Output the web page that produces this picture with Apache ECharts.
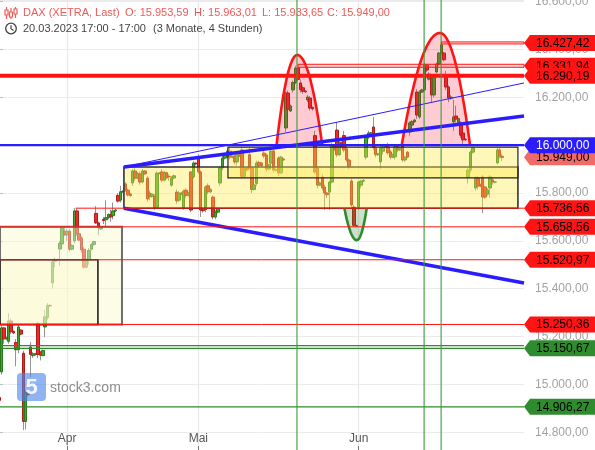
<!DOCTYPE html>
<html>
<head>
<meta charset="utf-8">
<title>DAX (XETRA) – 4-Stunden-Chart</title>
<script src="https://cdn.jsdelivr.net/npm/echarts/dist/echarts.min.js"></script>
<style>
  html, body { margin: 0; padding: 0; background: #fff; }
  #chart { width: 595px; height: 450px; }
</style>
</head>
<body>
<div id="chart"></div>
<script>
const FONT = '"Liberation Sans", Arial, sans-serif';

// Trading days on the axis; each day carries three 4h sessions
const daysMar = ['20.03.', '21.03.', '22.03.', '23.03.', '24.03.', '27.03.', '28.03.', '29.03.', '30.03.', '31.03.'];
const daysApr = ['03.04.', '04.04.', '05.04.', '06.04.', '11.04.', '12.04.', '13.04.', '14.04.', '17.04.', '18.04.', '19.04.', '20.04.', '21.04.', '24.04.', '25.04.', '26.04.', '27.04.', '28.04.'];
const daysMay = ['02.05.', '03.05.', '04.05.', '05.05.', '08.05.', '09.05.', '10.05.', '11.05.', '12.05.', '15.05.', '16.05.', '17.05.', '18.05.', '19.05.', '22.05.', '23.05.', '24.05.', '25.05.', '26.05.', '29.05.', '30.05.', '31.05.'];
const daysJun = ['01.06.', '02.06.', '05.06.', '06.06.', '07.06.', '08.06.', '09.06.', '12.06.', '13.06.', '14.06.', '15.06.', '16.06.', '19.06.', '20.06.', '21.06.', '22.06.', '23.06.', '26.06.', '27.06.', '28.06.', '29.06.', '30.06.'];
const daysJul = ['03.07.'];
const sessions = ['09:00', '13:00', '17:00'];
const monthLabels = { '04': 'Apr', '05': 'Mai', '06': 'Jun' };

// Candles: [open, close, low, high]
const candlesMar = [
  [14945, 14933, 14925, 14950],
  [15052, 15236, 15040, 15245], [15236, 15190, 15170, 15240], [15190, 15196, 15185, 15200],
  [15180, 15265, 15170, 15298], [15265, 15220, 15210, 15275], [15222, 15215, 15210, 15225],
  [15175, 15145, 15075, 15190], [15145, 15240, 15130, 15250], [15227, 15210, 15205, 15230],
  [15130, 14845, 14809, 15140], [14845, 14965, 14812, 14975], [14965, 14957, 14950, 14970],
  [15156, 15125, 15031, 15177], [15120, 15128, 15110, 15135], [15125, 15128, 15120, 15132],
  [15255, 15125, 15110, 15262], [15135, 15122, 15100, 15140], [15120, 15142, 15118, 15145],
  [15240, 15282, 15198, 15311], [15280, 15330, 15270, 15340], [15330, 15328, 15325, 15335],
  [15424, 15512, 15400, 15520], [15515, 15522, 15490, 15530], [15522, 15522, 15518, 15526],
  [15566, 15590, 15495, 15600], [15587, 15654, 15580, 15660], [15640, 15625, 15620, 15660]
];
const candlesApr = [
  [15625, 15640, 15600, 15650], [15640, 15565, 15555, 15650], [15565, 15581, 15560, 15585],
  [15600, 15725, 15590, 15736.56], [15725, 15630, 15620, 15735], [15630, 15603, 15600, 15635],
  [15612, 15562, 15550, 15620], [15565, 15490, 15482, 15575], [15490, 15520, 15485, 15525],
  [15520, 15560, 15500, 15570], [15565, 15585, 15560, 15590], [15585, 15597, 15580, 15600],
  [15715, 15675, 15670, 15745], [15675, 15655, 15624, 15680], [15650, 15657, 15645, 15660],
  [15690, 15685, 15670, 15700], [15688, 15697, 15660, 15770], [15697, 15710, 15690, 15715],
  [15710, 15700, 15680, 15730], [15705, 15725, 15690, 15760], [15725, 15729, 15720, 15735],
  [15790, 15766, 15760, 15800], [15770, 15805, 15760, 15830], [15805, 15807, 15800, 15812],
  [15838, 15812, 15805, 15845], [15812, 15792, 15785, 15820], [15795, 15789, 15785, 15800],
  [15842, 15892, 15830, 15900], [15892, 15862, 15850, 15905], [15862, 15882, 15858, 15888],
  [15880, 15846, 15835, 15890], [15846, 15892, 15840, 15900], [15892, 15880, 15875, 15895],
  [15862, 15775, 15765, 15870], [15800, 15785, 15770, 15810], [15785, 15795, 15780, 15800],
  [15785, 15740, 15730, 15795], [15740, 15883, 15735, 15890], [15883, 15882, 15878, 15887],
  [15888, 15854, 15845, 15900], [15854, 15885, 15848, 15892], [15885, 15863, 15858, 15888],
  [15870, 15868, 15850, 15880], [15833, 15863, 15825, 15870], [15863, 15872, 15858, 15876],
  [15804, 15767, 15755, 15815], [15770, 15800, 15762, 15808], [15800, 15796, 15790, 15803],
  [15737, 15808, 15730, 15815], [15812, 15790, 15780, 15820], [15790, 15800, 15785, 15806],
  [15888, 15729, 15720, 15892], [15867, 15925, 15860, 15932], [15925, 15922, 15915, 15928]
];
const candlesMay = [
  [15946, 15888, 15880, 15962], [15888, 15729, 15700, 15895], [15730, 15726, 15718, 15735],
  [15730, 15825, 15720, 15832], [15830, 15805, 15795, 15840], [15805, 15815, 15800, 15820],
  [15783, 15700, 15690, 15790], [15700, 15720, 15690, 15728], [15720, 15734, 15715, 15740],
  [15842, 15905, 15830, 15912], [15905, 15946, 15895, 15955], [15946, 15961, 15940, 15966],
  [15960, 15975, 15945, 15985], [15975, 15950, 15940, 15990], [15950, 15952, 15945, 15958],
  [15955, 15930, 15920, 15970], [15930, 15960, 15915, 15975], [15960, 15955, 15950, 15962],
  [15980, 15870, 15860, 15990], [15870, 15905, 15860, 15910], [15905, 15897, 15890, 15908],
  [15960, 15905, 15900, 15990], [15905, 15815, 15800, 15910], [15815, 15834, 15810, 15840],
  [15840, 15925, 15830, 15935], [15928, 15915, 15905, 15935], [15925, 15914, 15910, 15930],
  [15967, 15955, 15945, 15975], [15959, 15900, 15890, 15965], [15900, 15918, 15895, 15922],
  [15925, 15975, 15915, 15985], [15976, 15896, 15885, 15980], [15896, 15897, 15890, 15902],
  [15946, 15884, 15870, 15955], [15884, 15950, 15880, 15955], [15942, 15938, 15935, 15945],
  [16072, 16218, 16055, 16225], [16218, 16150, 16140, 16228], [16143, 16164, 16138, 16170],
  [16231, 16262, 16220, 16270], [16262, 16322, 16255, 16331.94], [16322, 16275, 16268, 16326],
  [16260, 16232, 16220, 16275], [16240, 16225, 16215, 16250], [16226, 16223, 16218, 16229],
  [16189, 16201, 16180, 16210], [16197, 16155, 16145, 16205], [16158, 16152, 16145, 16162],
  [16040, 15888, 15880, 16060], [15905, 15833, 15820, 15912], [15833, 15842, 15828, 15848],
  [15867, 15821, 15810, 15880], [15825, 15800, 15730, 15835], [15800, 15793, 15779, 15805],
  [15804, 15846, 15730, 15852], [15846, 16001, 15840, 16008], [16000, 15983, 15975, 16005],
  [16063, 15960, 15950, 16097], [15960, 16010, 15955, 16020], [16010, 15995, 15990, 16015],
  [16040, 15980, 15970, 16060], [15985, 15938, 15930, 15995], [15938, 15909, 15900, 15945],
  [15850, 15750, 15740, 15860], [15741, 15665, 15658.56, 15750], [15660, 15664, 15658.56, 15668]
];
const candlesJun = [
  [15741, 15846, 15730, 15850], [15833, 15850, 15820, 15855], [15850, 15853, 15845, 15858],
  [15950, 16034, 15940, 16040], [16034, 16051, 16025, 16060], [16051, 16051, 16045, 16055],
  [16076, 15990, 15980, 16118], [15990, 15960, 15950, 15995], [15960, 15964, 15955, 15968],
  [15930, 15988, 15900, 15995], [15975, 15992, 15960, 16005], [15992, 15993, 15988, 15998],
  [15993, 15968, 15960, 16010], [15972, 15950, 15940, 15980], [15950, 15960, 15945, 15965],
  [15951, 15993, 15940, 16000], [15993, 15980, 15970, 16005], [15980, 15989, 15975, 15995],
  [15997, 15938, 15930, 16005], [15938, 15950, 15930, 15955], [15971, 15950, 15945, 15975],
  [16055, 16093, 16040, 16100], [16084, 16098, 16075, 16105], [16098, 16105, 16093, 16110],
  [16222, 16126, 16110, 16235], [16118, 16222, 16110, 16230], [16222, 16231, 16218, 16236],
  [16231, 16335, 16225, 16345], [16335, 16314, 16305, 16340], [16276, 16297, 16270, 16305],
  [16280, 16210, 16180, 16290], [16210, 16290, 16200, 16295], [16306, 16339, 16300, 16345],
  [16339, 16385, 16330, 16390], [16385, 16420, 16380, 16427.42], [16385, 16357, 16350, 16390],
  [16290, 16243, 16230, 16310], [16243, 16197, 16180, 16250], [16197, 16201, 16190, 16210],
  [16097, 16118, 16060, 16190], [16122, 16109, 16095, 16165], [16095, 16111, 16088, 16115],
  [16093, 16042, 16030, 16100], [16051, 16022, 16005, 16060], [16025, 16023, 16018, 16028],
  [15865, 15896, 15840, 15905], [15896, 15971, 15885, 15978], [15971, 15988, 15965, 15992],
  [15821, 15863, 15810, 15870], [15863, 15829, 15815, 15870], [15835, 15829, 15825, 15840],
  [15867, 15783, 15716, 15875], [15825, 15783, 15775, 15830], [15795, 15813, 15790, 15820],
  [15821, 15867, 15780, 15875], [15855, 15846, 15835, 15862], [15846, 15846, 15840, 15850],
  [15926, 15980, 15920, 15990], [15980, 15955, 15945, 15990], [15953.59, 15949.00, 15933.65, 15963.01]
];

// Marked price levels (right-hand tags)
const levelPrices = [16427.42, 16331.94, 16290.19, 16000.00, 15949.00, 15736.56, 15658.56, 15520.97, 15250.36, 15150.67, 14906.27];
// Companion line next to the 15.150,67 level
const extraLevels = [15162.00];
// Zones: [upper price, lower price]
const zonePrices = [[15658.56, 15250.36], [15520.97, 15250.36], [15909.00, 15736.56], [15992.00, 15863.00]];
// Trend channel: [start price, end price]
const trendPrices = [[15909.00, 16122.00], [15909.00, 16260.00], [15736.56, 15424.00]];
// Arches: [base price, apex price]
const archPrices = [[16000.00, 16377.00], [16000.00, 16469.00], [15736.56, 15603.00]];

// ---------------------------------------------------------------------------
const fmt = v => {
  const parts = Number(v).toFixed(2).split('.');
  return parts[0].replace(/\B(?=(\d{3})+(?!\d))/g, '.') + ',' + parts[1];
};

const categories = [];
[...daysMar, ...daysApr, ...daysMay, ...daysJun, ...daysJul].forEach((d, i) => {
  sessions.forEach((s, j) => { if (i > 0 || j === 2) categories.push(d + ' ' + s); });
});
const monthStart = new Set();
categories.forEach((c, i) => {
  const m = c.slice(3, 5);
  if (i > 0 && m !== categories[i - 1].slice(3, 5) && monthLabels[m]) monthStart.add(i);
});
const LAST = categories.length - 1;

const candles = [...candlesMar, ...candlesApr, ...candlesMay, ...candlesJun];
const bodies = candles.map(c => [c[0], c[1], Math.min(c[0], c[1]), Math.max(c[0], c[1])]);
const lastCandle = candlesJun[candlesJun.length - 1];

const Y_MIN = 14725.6, Y_MAX = 16606.9;

// Layout / style of the drawing objects (positions in session units along the axis)
const RED = '#ff1414', BLUE = '#2a1cff', GREEN = '#2e8b2e';
const zoneLayout = [
  { span: [0.41, 50.6], fill: 'rgba(250,248,200,0.45)', stroke: 'rgba(95,95,95,0.9)', width: 2 },
  { span: [0.41, 40.7], fill: 'rgba(250,248,200,0.35)', stroke: '#222', width: 1.6 },
  { span: [51.4, 213.5], fill: 'rgba(252,236,80,0.4)', stroke: '#333', width: 1.6 },
  { span: [94.2, 213.5], fill: 'rgba(252,236,80,0.4)', stroke: '#222', width: 1.2 }
];
const levelLayout = [
  { from: 182, color: RED, kind: 'double', gap: 2, tag: RED, text: '#000' },
  { from: 123, color: RED, kind: 'double', gap: 3, tag: RED, text: '#000' },
  { from: 0, color: RED, kind: 'line', width: 4.2, tag: RED, text: '#000' },
  { from: 0, color: BLUE, kind: 'line', width: 2.4, tag: BLUE, text: '#fff' },
  { from: null, tag: '#f06a68', text: '#000' },
  { from: 31.5, color: RED, kind: 'line', width: 1, tag: RED, text: '#000' },
  { from: 0, color: RED, kind: 'line', width: 1, tag: RED, text: '#000' },
  { from: 0, color: RED, kind: 'line', width: 1, tag: RED, text: '#000' },
  { from: 0, color: RED, kind: 'line', width: 1, tag: RED, text: '#000' },
  { from: 0, color: GREEN, kind: 'line', width: 1.2, tag: GREEN, text: '#000' },
  { from: 0, color: GREEN, kind: 'line', width: 1.2, tag: GREEN, text: '#000' }
];
const tagOrder = [0, 1, 2, 4, 3, 5, 6, 7, 8, 9, 10];
const trendLayout = [
  { span: [51.4, 216], width: 3.6 },
  { span: [51.4, 216], width: 1 },
  { span: [51.4, 216], width: 3.6 }
];
const archLayout = [
  { from: 114.2, apex: 122.7, to: 133.0, stroke: RED, fill: 'rgba(250,20,50,0.22)' },
  { from: 165.7, apex: 181.4, to: 193.8, stroke: RED, fill: 'rgba(250,20,50,0.22)' },
  { from: 142.1, apex: 147.2, to: 151.3, stroke: GREEN, fill: 'rgba(40,140,40,0.25)' }
];
const markerSessions = [122.6, 174.9, 181.9];

function archPoints(api, i) {
  const L = archLayout[i], p = archPrices[i];
  const a = api.coord([L.from, p[0]]), t = api.coord([L.apex, p[1]]), b = api.coord([L.to, p[0]]);
  const pts = [];
  const n = 30;
  for (let k = 0; k <= n; k++) {
    const s = k / n;
    pts.push([a[0] + s * (t[0] - a[0]), t[1] + (a[1] - t[1]) * (1 - s) * (1 - s)]);
  }
  for (let k = 1; k <= n; k++) {
    const s = k / n;
    pts.push([t[0] + s * (b[0] - t[0]), t[1] + (b[1] - t[1]) * s * s]);
  }
  return pts;
}

const chart = echarts.init(document.getElementById('chart'), null, { renderer: 'canvas', width: 595, height: 450 });

const option = {
  animation: false,
  backgroundColor: '#ffffff',
  grid: { left: -1, right: 71, top: 0, bottom: 0, containLabel: false, outerBoundsMode: 'none' },
  xAxis: [
    {
      type: 'category', data: categories, boundaryGap: false,
      axisLine: { show: false },
      axisTick: { show: true, inside: true, length: 4, interval: i => monthStart.has(i), lineStyle: { color: '#777' } },
      axisLabel: {
        inside: true, margin: 5, interval: i => monthStart.has(i),
        formatter: v => monthLabels[v.slice(3, 5)] || '',
        color: '#555', fontSize: 12, fontFamily: FONT
      },
      splitLine: { show: true, interval: i => monthStart.has(i), lineStyle: { color: '#e8e8e8', width: 1.2 } }
    },
    { type: 'value', min: 0, max: LAST, show: false }
  ],
  yAxis: {
    type: 'value', position: 'right', min: Y_MIN, max: Y_MAX, minInterval: 200, maxInterval: 200,
    axisLine: { show: true, lineStyle: { color: '#d6d6d6' } },
    axisTick: { show: true, length: 4, lineStyle: { color: '#bdbdbd' } },
    axisLabel: { margin: 11, color: '#a3a3a3', fontSize: 12, fontFamily: FONT, showMinLabel: false, showMaxLabel: false, formatter: fmt },
    splitLine: { show: true, lineStyle: { color: '#ebebeb' } }
  },
  series: [
    {
      name: 'wicks', type: 'candlestick', data: candles, barWidth: 1, silent: true, z: 2,
      itemStyle: { color: '#949494', color0: '#949494', borderColor: '#949494', borderColor0: '#949494', borderWidth: 1 }
    },
    {
      name: 'DAX', type: 'candlestick', data: bodies, barWidth: 3, silent: true, z: 2,
      itemStyle: { color: '#41a62f', color0: '#ec2b26', borderColor: '#2a7a1c', borderColor0: '#b01c18', borderWidth: 1 }
    },
    {
      name: 'zones', type: 'custom', xAxisIndex: 1, z: 3, silent: true,
      data: zonePrices.map((p, i) => [i]),
      renderItem: (params, api) => {
        const i = params.dataIndex, L = zoneLayout[i], p = zonePrices[i];
        const a = api.coord([L.span[0], p[0]]), b = api.coord([L.span[1], p[1]]);
        return { type: 'rect', shape: { x: a[0], y: a[1], width: b[0] - a[0], height: b[1] - a[1] },
          style: { fill: L.fill, stroke: L.stroke, lineWidth: L.width } };
      }
    },
    {
      name: 'arches', type: 'custom', xAxisIndex: 1, z: 3, silent: true,
      data: archPrices.map((p, i) => [i]),
      renderItem: (params, api) => {
        const i = params.dataIndex, L = archLayout[i];
        const pts = archPoints(api, i);
        return { type: 'group', children: [
          { type: 'polygon', shape: { points: pts }, style: { fill: L.fill } },
          { type: 'polyline', shape: { points: pts }, style: { stroke: L.stroke, lineWidth: 2.6, fill: null } }
        ] };
      }
    },
    {
      name: 'trend', type: 'custom', xAxisIndex: 1, z: 4, silent: true,
      data: trendPrices.map((p, i) => [i]),
      renderItem: (params, api) => {
        const i = params.dataIndex, L = trendLayout[i], p = trendPrices[i];
        const a = api.coord([L.span[0], p[0]]), b = api.coord([L.span[1], p[1]]);
        return { type: 'line', shape: { x1: a[0], y1: a[1], x2: b[0], y2: b[1] },
          style: { stroke: BLUE, lineWidth: L.width, lineCap: 'butt' } };
      }
    },
    {
      name: 'levels', type: 'custom', xAxisIndex: 1, z: 4, silent: true,
      data: levelPrices.map((p, i) => [i]),
      renderItem: (params, api) => {
        const i = params.dataIndex, L = levelLayout[i];
        if (L.from === null) return null;
        const a = api.coord([L.from, levelPrices[i]]), b = api.coord([LAST, levelPrices[i]]);
        if (L.kind === 'double') {
          return { type: 'rect', shape: { x: a[0], y: a[1] - L.gap / 2, width: b[0] - a[0], height: L.gap },
            style: { fill: 'rgba(255,120,120,0.25)', stroke: L.color, lineWidth: 1 } };
        }
        return { type: 'line', shape: { x1: a[0], y1: a[1], x2: b[0], y2: b[1] },
          style: { stroke: L.color, lineWidth: L.width } };
      }
    },
    {
      name: 'levelCompanion', type: 'custom', xAxisIndex: 1, z: 4, silent: true,
      data: extraLevels.map((p, i) => [i]),
      renderItem: (params, api) => {
        const p = extraLevels[params.dataIndex];
        const a = api.coord([0, p]), b = api.coord([LAST, p]);
        return { type: 'line', shape: { x1: a[0], y1: a[1], x2: b[0], y2: b[1] }, style: { stroke: GREEN, lineWidth: 1.2 } };
      }
    },
    {
      name: 'markers', type: 'custom', xAxisIndex: 1, z: 4, silent: true,
      data: markerSessions.map((s, i) => [i]),
      renderItem: (params, api) => {
        const s = markerSessions[params.dataIndex];
        const a = api.coord([s, Y_MAX]), b = api.coord([s, Y_MIN]);
        return { type: 'line', shape: { x1: a[0], y1: a[1], x2: b[0], y2: b[1] }, style: { stroke: '#3a9a3a', lineWidth: 1.1 } };
      }
    },
    {
      name: 'tags', type: 'custom', xAxisIndex: 1, z: 6, silent: true,
      data: tagOrder.map(i => [i]),
      renderItem: (params, api) => {
        const i = tagOrder[params.dataIndex], L = levelLayout[i];
        const y = api.coord([0, levelPrices[i]])[1];
        const x0 = params.coordSys.x + params.coordSys.width;
        return { type: 'group', children: [
          { type: 'polygon', shape: { points: [[x0, y], [x0 + 6, y - 8], [600, y - 8], [600, y + 8], [x0 + 6, y + 8]] },
            style: { fill: L.tag } },
          { type: 'text', x: x0 + 12, y: y + 0.5,
            style: { text: fmt(levelPrices[i]), fill: L.text, fontSize: 12, fontFamily: FONT, verticalAlign: 'middle', align: 'left' } }
        ] };
      }
    }
  ],
  graphic: [
    // header: candle icon
    { type: 'line', z: 10, shape: { x1: 6.5, y1: 7, x2: 6.5, y2: 19 }, style: { stroke: '#ee5a55', lineWidth: 1.2 } },
    { type: 'rect', z: 10, shape: { x: 5, y: 10, width: 3, height: 5 }, style: { fill: '#fff', stroke: '#ee5a55', lineWidth: 1.2 } },
    { type: 'line', z: 10, shape: { x1: 11, y1: 8, x2: 11, y2: 19 }, style: { stroke: '#ee5a55', lineWidth: 1.2 } },
    { type: 'rect', z: 10, shape: { x: 9.5, y: 12, width: 3, height: 5 }, style: { fill: '#fff', stroke: '#ee5a55', lineWidth: 1.2 } },
    { type: 'line', z: 10, shape: { x1: 15.5, y1: 7, x2: 15.5, y2: 18 }, style: { stroke: '#ee5a55', lineWidth: 1.2 } },
    { type: 'rect', z: 10, shape: { x: 14, y: 9, width: 3, height: 5 }, style: { fill: '#fff', stroke: '#ee5a55', lineWidth: 1.2 } },
    { type: 'text', z: 10, x: 23, y: 13, style: { text: 'DAX (XETRA, Last)', fill: '#ee5a55', fontSize: 11, fontFamily: FONT, verticalAlign: 'middle' } },
    { type: 'text', z: 10, x: 125, y: 13, style: { text: 'O: ' + fmt(lastCandle[0]), fill: '#ee5a55', fontSize: 11, fontFamily: FONT, verticalAlign: 'middle' } },
    { type: 'text', z: 10, x: 194, y: 13, style: { text: 'H: ' + fmt(lastCandle[3]), fill: '#ee5a55', fontSize: 11, fontFamily: FONT, verticalAlign: 'middle' } },
    { type: 'text', z: 10, x: 262, y: 13, style: { text: 'L: ' + fmt(lastCandle[2]), fill: '#ee5a55', fontSize: 11, fontFamily: FONT, verticalAlign: 'middle' } },
    { type: 'text', z: 10, x: 327, y: 13, style: { text: 'C: ' + fmt(lastCandle[1]), fill: '#ee5a55', fontSize: 11, fontFamily: FONT, verticalAlign: 'middle' } },
    // header: clock icon and period
    { type: 'circle', z: 10, shape: { cx: 11, cy: 28.5, r: 5.3 }, style: { fill: null, stroke: '#444', lineWidth: 1.3 } },
    { type: 'polyline', z: 10, shape: { points: [[11, 25.3], [11, 28.7], [13.6, 30.4]] }, style: { stroke: '#444', lineWidth: 1.2, fill: null } },
    { type: 'text', z: 10, x: 23, y: 29, style: { text: '20.03.2023 17:00 - 17:00', fill: '#444', fontSize: 11, fontFamily: FONT, verticalAlign: 'middle' } },
    { type: 'text', z: 10, x: 153, y: 29, style: { text: '(3 Monate, 4 Stunden)', fill: '#444', fontSize: 11, fontFamily: FONT, verticalAlign: 'middle' } },
    // watermark
    { type: 'rect', z: 10, shape: { x: 17, y: 373, width: 29, height: 28, r: 4 }, style: { fill: 'rgba(74,134,232,0.62)' } },
    { type: 'text', z: 10, x: 31.5, y: 388, style: { text: '5', fill: 'rgba(255,255,255,0.9)', fontSize: 22, fontWeight: 'bold', fontFamily: FONT, align: 'center', verticalAlign: 'middle' } },
    { type: 'text', z: 10, x: 50, y: 388, style: { text: 'stock3.com', fill: '#8d8d8d', fontSize: 14, fontFamily: FONT, verticalAlign: 'middle' } }
  ]
};

chart.setOption(option);
</script>
</body>
</html>
